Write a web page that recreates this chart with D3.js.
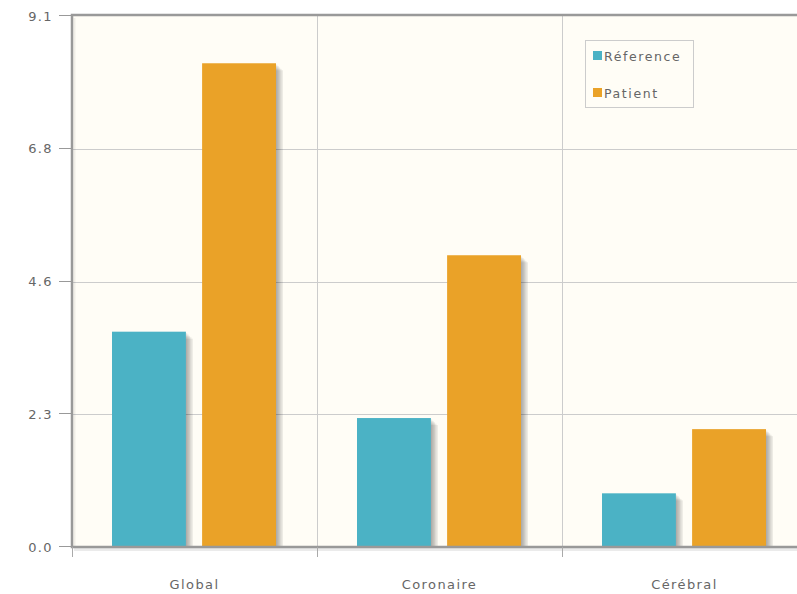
<!DOCTYPE html>
<html>
<head>
<meta charset="utf-8">
<script src="https://cdn.jsdelivr.net/npm/d3@7"></script>
<style>
    body { margin: 0; background: #ffffff; overflow: hidden; }
    .tick-label { font-family: "DejaVu Sans", sans-serif; font-size: 13px; fill: #666666; letter-spacing: 1.4px; }
    .legend-label { font-family: "DejaVu Sans", sans-serif; font-size: 12.5px; fill: #666666; letter-spacing: 1.6px; }
</style>
</head>
<body>
<div id="chart"></div>
<script>
// data
const categories = ['Global', 'Coronaire', 'Cérébral'];
const seriesNames = ['Réference', 'Patient'];
const referenceValues = [3.69, 2.21, 0.92];
const patientValues = [8.29, 5.0, 2.02];
const yTicks = [0, 2.275, 4.55, 6.825, 9.1];
const yTickLabels = ['0.0', '2.3', '4.6', '6.8', '9.1'];
const seriesColors = ['#4bb2c5', '#eaa228'];

const width = 797;
const height = 594;

// plot area runs past the right edge of the window, as in the picture
const margin = { top: 16, left: 72 };
const plotWidth = 735;
const plotBottom = 547;

const svg = d3.select('#chart').append('svg')
    .attr('width', width)
    .attr('height', height);

const x0 = d3.scaleBand()
    .domain(categories)
    .range([margin.left, margin.left + plotWidth]);

const x1 = d3.scaleBand()
    .domain(seriesNames)
    .range([40, 204])
    .paddingInner(0.18);

const y = d3.scaleLinear()
    .domain([0, 9.1])
    .range([plotBottom, margin.top]);

// background
svg.append('rect')
    .attr('x', margin.left)
    .attr('y', margin.top)
    .attr('width', plotWidth)
    .attr('height', plotBottom - margin.top)
    .attr('fill', '#fffdf6');

// horizontal grid lines
svg.append('g')
    .selectAll('line')
    .data(yTicks.slice(1, -1))
    .join('line')
    .attr('x1', margin.left)
    .attr('x2', margin.left + plotWidth)
    .attr('y1', d => Math.round(y(d)) + 0.5)
    .attr('y2', d => Math.round(y(d)) + 0.5)
    .attr('stroke', '#cccccc');

// vertical grid lines at category boundaries
const boundaries = categories.slice(1).map(c => x0(c));
svg.append('g')
    .selectAll('line')
    .data(boundaries)
    .join('line')
    .attr('x1', d => Math.round(d) + 0.5)
    .attr('x2', d => Math.round(d) + 0.5)
    .attr('y1', margin.top)
    .attr('y2', plotBottom)
    .attr('stroke', '#cccccc');

// bars
const rows = categories.map((c, i) => ({
    category: c,
    values: [
        { name: seriesNames[0], value: referenceValues[i], color: seriesColors[0] },
        { name: seriesNames[1], value: patientValues[i], color: seriesColors[1] }
    ]
}));

const groups = svg.append('g')
    .selectAll('g')
    .data(rows)
    .join('g')
    .attr('transform', d => `translate(${x0(d.category)},0)`);

// shadow layers, drawn to the right of each bar
const shadowSteps = [1, 2, 3, 4, 5];
groups.selectAll('g.shadow')
    .data(d => d.values)
    .join('g')
    .attr('class', 'shadow')
    .selectAll('rect')
    .data(d => shadowSteps.map(s => ({ ...d, s })))
    .join('rect')
    .attr('x', d => x1(d.name) + d.s * 1.4)
    .attr('y', d => y(d.value) + d.s * 1.4)
    .attr('width', x1.bandwidth())
    .attr('height', d => plotBottom - y(d.value) - d.s * 1.4)
    .attr('fill', '#000')
    .attr('fill-opacity', 0.07);

groups.selectAll('rect.bar')
    .data(d => d.values)
    .join('rect')
    .attr('class', 'bar')
    .attr('x', d => x1(d.name))
    .attr('y', d => y(d.value))
    .attr('width', x1.bandwidth())
    .attr('height', d => plotBottom - y(d.value))
    .attr('fill', d => d.color);

// border with a little shadow
const border = svg.append('g');
border.append('path')
    .attr('d', `M${margin.left + 2},${plotBottom + 2.5}H${margin.left + plotWidth}`)
    .attr('stroke', '#000').attr('stroke-opacity', 0.08).attr('stroke-width', 3).attr('fill', 'none');
border.append('path')
    .attr('d', `M${margin.left + 2.5},${plotBottom}V${margin.top + 2}`)
    .attr('stroke', '#000').attr('stroke-opacity', 0.06).attr('stroke-width', 2).attr('fill', 'none');
border.append('rect')
    .attr('x', margin.left)
    .attr('y', margin.top - 1)
    .attr('width', plotWidth)
    .attr('height', plotBottom - margin.top + 1)
    .attr('fill', 'none')
    .attr('stroke', '#999999')
    .attr('stroke-width', 2.5);

// y axis ticks and labels
const yAxis = svg.append('g');
yAxis.selectAll('line')
    .data(yTicks)
    .join('line')
    .attr('x1', margin.left - 13)
    .attr('x2', margin.left - 1)
    .attr('y1', d => Math.round(y(d)) - 0.5)
    .attr('y2', d => Math.round(y(d)) - 0.5)
    .attr('stroke', '#999999');
yAxis.selectAll('text')
    .data(yTicks)
    .join('text')
    .attr('class', 'tick-label')
    .attr('x', 53)
    .attr('y', d => y(d))
    .attr('dy', '0.35em')
    .attr('text-anchor', 'end')
    .text((d, i) => yTickLabels[i]);

// x axis ticks at boundaries and labels at centres
const xAxis = svg.append('g');
xAxis.selectAll('line')
    .data([margin.left].concat(boundaries))
    .join('line')
    .attr('x1', d => Math.round(d) + 0.5)
    .attr('x2', d => Math.round(d) + 0.5)
    .attr('y1', plotBottom)
    .attr('y2', plotBottom + 10)
    .attr('stroke', '#aaaaaa');
xAxis.selectAll('text')
    .data(categories)
    .join('text')
    .attr('class', 'tick-label')
    .attr('x', d => x0(d) + x0.bandwidth() / 2)
    .attr('y', 589)
    .attr('text-anchor', 'middle')
    .text(d => d);

// legend
const legend = svg.append('g').attr('transform', 'translate(585,40)');
legend.append('rect')
    .attr('x', 0.5).attr('y', 0.5)
    .attr('width', 108).attr('height', 67)
    .attr('fill', '#fffdf6')
    .attr('stroke', '#cccccc');
const items = legend.selectAll('g')
    .data(seriesNames)
    .join('g')
    .attr('transform', (d, i) => `translate(8,${11 + i * 37})`);
items.append('rect')
    .attr('width', 9).attr('height', 9)
    .attr('fill', (d, i) => seriesColors[i]);
items.append('text')
    .attr('class', 'legend-label')
    .attr('x', 11)
    .attr('y', 9.5)
    .text(d => d);
</script>
</body>
</html>
